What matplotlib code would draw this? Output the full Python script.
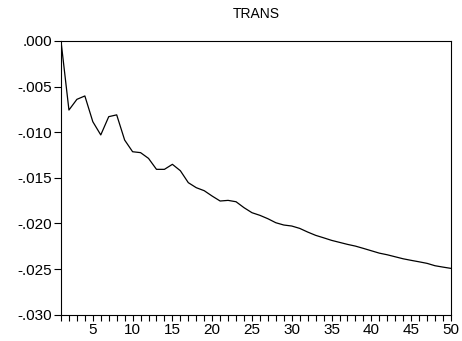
import matplotlib.pyplot as plt
import numpy as np

periods = list(range(1, 51))
trans = [
    0.0, -0.00757, -0.0064, -0.00603, -0.00885, -0.0103, -0.0083, -0.0081,
    -0.01086, -0.01214, -0.01224, -0.01287, -0.01407, -0.01407, -0.01352,
    -0.01422, -0.01553, -0.01608, -0.01641, -0.0170, -0.01754, -0.01747,
    -0.01762, -0.01827, -0.01882, -0.01911, -0.01948, -0.01992, -0.02017,
    -0.02028, -0.02054, -0.02094, -0.0213, -0.02157, -0.02185, -0.02207,
    -0.02229, -0.02248, -0.02273, -0.02299, -0.02325, -0.02343, -0.02365,
    -0.02387, -0.02404, -0.0242, -0.02437, -0.02463, -0.02478, -0.02492,
]
y_ticks = [0.0, -0.005, -0.010, -0.015, -0.020, -0.025, -0.030]
x_ticks = [5, 10, 15, 20, 25, 30, 35, 40, 45, 50]


def fmt(v):
    s = "%.3f" % v
    return s.replace("0.", ".", 1) if not s.startswith("-0") else "-" + s[2:]


def main():
    plt.rcParams['font.family'] = ['Liberation Sans', 'DejaVu Sans']
    fig = plt.figure(figsize=(4.62, 3.41), dpi=100)
    ax = fig.add_axes([0.132, 0.077, 0.844, 0.803])
    ax.plot(periods, trans, color='black', lw=0.9)
    ax.set_xlim(1, 50)
    ax.set_ylim(-0.030, 0.0)
    ax.set_yticks(y_ticks)
    ax.set_yticklabels([fmt(v) for v in y_ticks])
    ax.set_xticks(x_ticks)
    ax.set_xticks(periods, minor=True)
    ax.tick_params(which='both', direction='out', length=4.5, width=0.8,
                   labelsize=11, pad=1.5)
    ax.tick_params(axis='y', length=5)
    for s in ax.spines.values():
        s.set_linewidth(0.8)
    ax.set_title("TRANS", fontsize=10, pad=16.5)
    fig.savefig("out.png", dpi=100)


if __name__ == "__main__":
    main()
